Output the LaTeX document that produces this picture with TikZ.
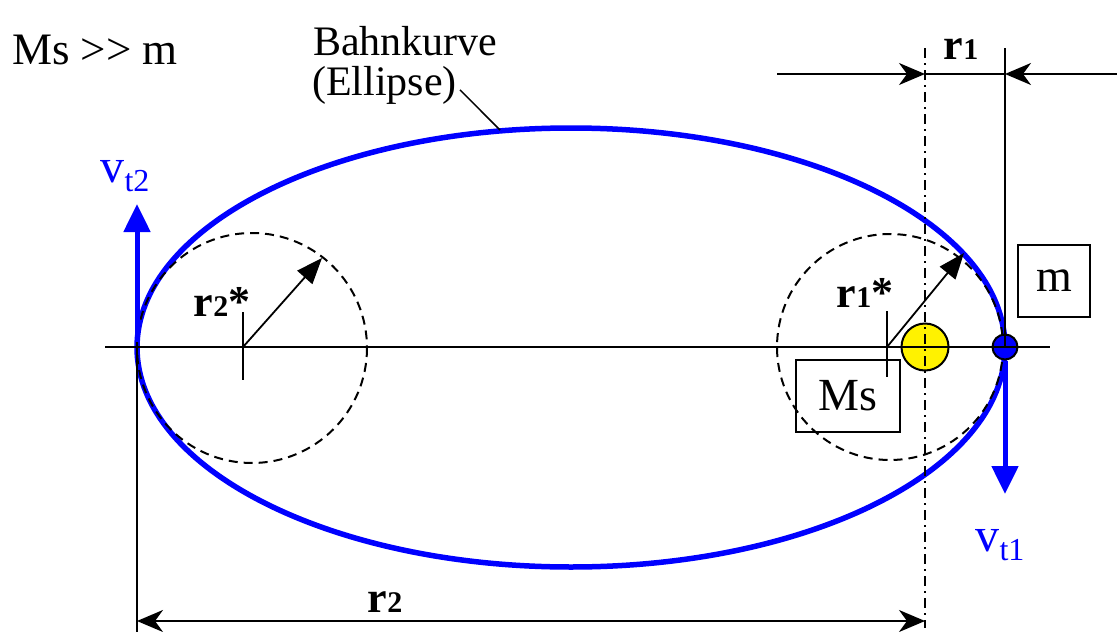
\documentclass[tikz,border=0pt]{standalone}
\usepackage{fontspec}
\setmainfont{Liberation Serif}
\usetikzlibrary{arrows.meta}
\begin{document}
\begin{tikzpicture}[x=1pt,y=-1pt,
  txt/.style={font=\fontsize{44}{46}\selectfont, inner sep=0pt},
  rtxt/.style={font=\fontsize{44}{46}\selectfont\bfseries, inner sep=0pt},
  btxt/.style={font=\fontsize{43}{46}\selectfont, text=blue, inner sep=0pt},
  thinl/.style={line width=1.8pt},
  orbit/.style={draw=blue, line width=5.5pt},
  dashc/.style={line width=2pt, dash pattern=on 9pt off 6pt},
  dashdot/.style={line width=1.8pt, dash pattern=on 10pt off 5pt on 2pt off 5pt},
  dimtip/.style={thinl, -{Stealth[length=26pt,width=22pt,inset=8pt]}},
  radtip/.style={thinl, -{Triangle[length=26pt,width=20pt]}},
  vel/.style={draw=blue, line width=5pt, -{Triangle[length=28pt,width=26pt]}},
  boxn/.style={draw, line width=1.5pt, font=\fontsize{46}{48}\selectfont, inner sep=0pt}
]
\useasboundingbox (0,0) rectangle (1117,632);
% key points
\coordinate (C) at (571,347.5);
\coordinate (L) at (137,347);
\coordinate (R) at (1005,347);
\coordinate (F) at (925,347);
\coordinate (c2) at (243,347);
\coordinate (c1) at (887,347);
% orbit
\draw[orbit] (C) ellipse [x radius=434, y radius=219.5];
% osculating circles
\draw[dashc] (252,348) circle (115);
\draw[dashc] (890,347) circle (113);
% bodies
\node[draw, line width=2pt, fill=yellow, circle, minimum size=47pt, inner sep=0] (sun) at (F) {};
\node[draw, line width=2pt, fill=blue, circle, minimum size=25pt, inner sep=0] (mass) at (R) {};
% axis and construction lines
\coordinate (ax1) at (105,347);
\coordinate (ax2) at (1050,347);
\draw[thinl] (ax1) -- (ax2);
\coordinate (dd1) at (925,48);
\coordinate (dd2) at (925,628);
\draw[dashdot] (dd1) -- (dd2);
\coordinate (vr1) at (1005,48);
\draw[thinl] (vr1) -- (R);
\coordinate (vl2) at (137,632);
\draw[thinl] (L) -- (vl2);
% r1 dimension
\coordinate (d1a) at (777,74);
\coordinate (d1b) at (925,74);
\coordinate (d1c) at (1005,74);
\coordinate (d1d) at (1117,74);
\draw[dimtip] (d1a) -- (d1b);
\draw[thinl] (d1b) -- (d1c);
\draw[dimtip] (d1d) -- (d1c);
\node[rtxt] (r1) at (961,49) {r{\fontsize{30}{30}\selectfont 1}};
% r2 dimension
\coordinate (d2a) at (137,621);
\coordinate (d2b) at (925,621);
\draw[thinl, {Stealth[length=26pt,width=22pt,inset=8pt]}-{Stealth[length=26pt,width=22pt,inset=8pt]}] (d2a) -- (d2b);
\node[rtxt] (r2) at (385,602) {r{\fontsize{30}{30}\selectfont 2}};
% radius ticks and arrows
\coordinate (t2a) at (243,312); \coordinate (t2b) at (243,380);
\draw[thinl] (t2a) -- (t2b);
\coordinate (a2) at (322,258);
\draw[radtip] (c2) -- (a2);
\node[rtxt] (r2s) at (222,302) {r{\fontsize{30}{30}\selectfont 2}*};
\coordinate (t1a) at (887,311); \coordinate (t1b) at (887,377);
\draw[thinl] (t1a) -- (t1b);
\coordinate (a1) at (964,253);
\draw[radtip] (c1) -- (a1);
\node[rtxt] (r1s) at (865,293) {r{\fontsize{30}{30}\selectfont 1}*};
% boxes
\node[boxn, minimum width=104pt, minimum height=72pt] (Ms) at (848,396) {Ms};
\node[boxn, minimum width=72pt, minimum height=72pt] (m) at (1054,281) {m};
% velocities
\coordinate (v1e) at (1005,494);
\draw[vel] (mass.south) -- (v1e);
\node[btxt, font=\fontsize{48}{48}\selectfont] (vt1) at (1000,545) {v\raisebox{-9pt}{\fontsize{32}{32}\selectfont t1}};
\coordinate (v2s) at (137,342);
\coordinate (v2e) at (137,204);
\draw[vel] (v2s) -- (v2e);
\node[btxt, font=\fontsize{48}{48}\selectfont] (vt2) at (125,176) {v\raisebox{-9pt}{\fontsize{32}{32}\selectfont t2}};
% texts
\node[txt, anchor=base west, font=\fontsize{45}{48}\selectfont] (cond) at (12,64) {Ms >{}> m};
\node[txt, anchor=base west, font=\fontsize{42}{46}\selectfont] (bahn) at (313,55) {Bahnkurve};
\node[txt, anchor=base west, font=\fontsize{42}{46}\selectfont] (ell) at (312,95) {(Ellipse)};
\coordinate (lead) at (500,130);
\draw[line width=1.5pt] (ell.east) ++(3,5) -- (lead);
\end{tikzpicture}
\end{document}
